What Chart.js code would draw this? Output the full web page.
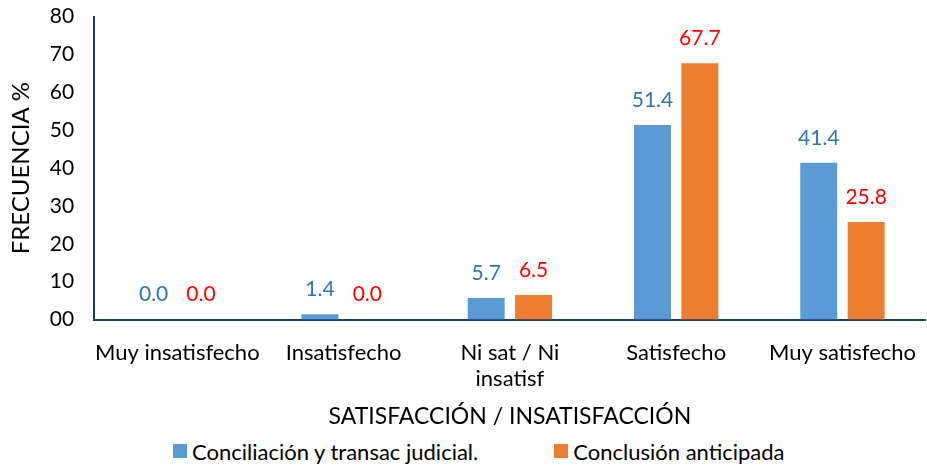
<!DOCTYPE html>
<html>
<head>
<meta charset="utf-8">
<script src="https://cdn.jsdelivr.net/npm/chart.js@4"></script>
<style>
  html, body { margin: 0; padding: 0; background: #fff; overflow: hidden; }
  #wrap { width: 936px; height: 452px; margin-top: -16px; position: relative; }
  #legend { width: 927px; height: 30px; display: flex; align-items: center; padding-left: 173px; box-sizing: border-box;
            font-family: Lato, sans-serif; font-size: 22px; color: #000; }
  .item { display: flex; align-items: center; margin-right: 76px; }
  .box { width: 14px; height: 14px; margin-right: 5px; }
</style>
</head>
<body>
<div id="wrap"><canvas id="chart"></canvas></div>
<div id="legend"></div>
<script>
const categories = ['Muy insatisfecho', 'Insatisfecho', ['Ni sat / Ni', 'insatisf'], 'Satisfecho', 'Muy satisfecho'];
const conciliacion = [0.0, 1.4, 5.7, 51.4, 41.4];
const conclusion = [0.0, 0.0, 6.5, 67.7, 25.8];
const seriesNames = ['Conciliación y transac judicial.', 'Conclusión anticipada'];
const yTicks = [0, 10, 20, 30, 40, 50, 60, 70, 80];

const FONT = 'Lato, sans-serif';
const axisColor = '#1F3A78';

// etiquetas de valor encima de cada barra
const valueLabels = {
    id: 'valueLabels',
    afterDatasetsDraw(chart) {
        const ctx = chart.ctx;
        ctx.save();
        ctx.font = '21px ' + FONT;
        ctx.textAlign = 'center';
        ctx.textBaseline = 'middle';
        chart.data.datasets.forEach((ds, i) => {
            const meta = chart.getDatasetMeta(i);
            ctx.fillStyle = ds.labelColor;
            meta.data.forEach((bar, j) => {
                ctx.fillText(ds.data[j].toFixed(1), bar.x, bar.y - 25);
            });
        });
        ctx.restore();
    }
};

const chart = new Chart(document.getElementById('chart'), {
    type: 'bar',
    data: {
        labels: categories,
        datasets: [
            {
                label: seriesNames[0],
                data: conciliacion,
                backgroundColor: '#5B9BD5',
                labelColor: '#2E75B6',
                categoryPercentage: 0.57,
                barPercentage: 0.78
            },
            {
                label: seriesNames[1],
                data: conclusion,
                backgroundColor: '#ED7D31',
                labelColor: '#FF0000',
                categoryPercentage: 0.57,
                barPercentage: 0.78
            }
        ]
    },
    options: {
        responsive: true,
        maintainAspectRatio: false,
        animation: false,
        layout: { padding: { left: 7, top: 0, right: 0, bottom: 6 } },
        plugins: {
            tooltip: { enabled: false },
            legend: { display: false }
        },
        scales: {
            x: {
                grid: { display: false, drawTicks: false },
                border: { display: true, color: axisColor, width: 2 },
                ticks: {
                    font: { family: FONT, size: 22 },
                    color: '#000',
                    padding: 20,
                    maxRotation: 0,
                    autoSkip: false
                },
                title: {
                    display: true,
                    text: 'SATISFACCIÓN / INSATISFACCIÓN',
                    font: { family: FONT, size: 23 },
                    color: '#000',
                    padding: { top: -10, bottom: 0 }
                }
            },
            y: {
                min: 0,
                max: 80,
                afterBuildTicks: (axis) => { axis.ticks = yTicks.map(v => ({ value: v })); },
                grid: { display: false, drawTicks: false },
                border: { display: true, color: axisColor, width: 2 },
                ticks: {
                    font: { family: FONT, size: 21 },
                    color: '#000',
                    padding: 20,
                    callback: (v) => v === 0 ? '00' : String(v)
                },
                title: {
                    display: true,
                    text: 'FRECUENCIA %',
                    font: { family: FONT, size: 24 },
                    color: '#000',
                    padding: { top: 0, bottom: -6 }
                }
            }
        }
    },
    plugins: [valueLabels]
});

// leyenda en HTML con los colores de cada serie
const legendEl = document.getElementById('legend');
chart.data.datasets.forEach(ds => {
    const item = document.createElement('div');
    item.className = 'item';
    const box = document.createElement('span');
    box.className = 'box';
    box.style.background = ds.backgroundColor;
    const txt = document.createElement('span');
    txt.textContent = ds.label;
    item.appendChild(box);
    item.appendChild(txt);
    legendEl.appendChild(item);
});
</script>
</body>
</html>
